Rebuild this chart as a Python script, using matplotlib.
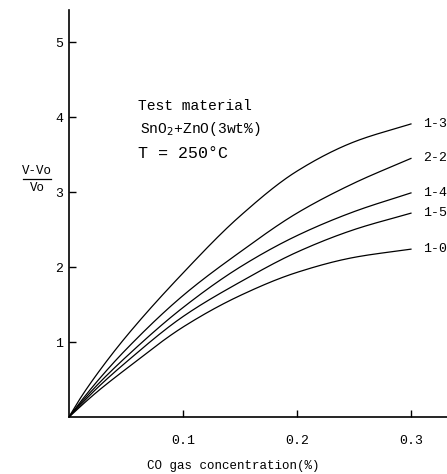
import numpy as np
import matplotlib.pyplot as plt
from matplotlib.lines import Line2D

# CO gas concentration (%) and (V-Vo)/Vo
conc = [0.0, 0.01, 0.025, 0.05, 0.1, 0.15, 0.2, 0.25, 0.3]
s13 = [0.0, 0.25, 0.58, 1.07, 1.92, 2.68, 3.28, 3.67, 3.91]
s22 = [0.0, 0.20, 0.48, 0.90, 1.62, 2.20, 2.72, 3.12, 3.45]
s14 = [0.0, 0.18, 0.43, 0.80, 1.46, 2.00, 2.42, 2.74, 2.99]
s15 = [0.0, 0.16, 0.39, 0.73, 1.34, 1.80, 2.20, 2.50, 2.72]
s10 = [0.0, 0.14, 0.34, 0.64, 1.20, 1.62, 1.93, 2.13, 2.24]
series = [s13, s22, s14, s15, s10]
names = ['1-3', '2-2', '1-4', '1-5', '1-0']

yticks = [1, 2, 3, 4, 5]
xticks = [0.1, 0.2, 0.3]
xticklabels = ['0.1', '0.2', '0.3']

mono = 'Liberation Mono'


def pchip(x, y, xn):
    # monotone cubic curve through the read points, just for drawing
    x = np.asarray(x, float)
    y = np.asarray(y, float)
    h = np.diff(x)
    d = np.diff(y) / h
    m = np.zeros_like(y)
    for i in range(1, len(x) - 1):
        if d[i - 1] * d[i] > 0:
            w1 = 2 * h[i] + h[i - 1]
            w2 = h[i] + 2 * h[i - 1]
            m[i] = (w1 + w2) / (w1 / d[i - 1] + w2 / d[i])
    m[0] = d[0]
    m[-1] = d[-1]
    idx = np.clip(np.searchsorted(x, xn) - 1, 0, len(h) - 1)
    t = (xn - x[idx]) / h[idx]
    h00 = 2 * t**3 - 3 * t**2 + 1
    h10 = t**3 - 2 * t**2 + t
    h01 = -2 * t**3 + 3 * t**2
    h11 = t**3 - t**2
    return h00 * y[idx] + h10 * h[idx] * m[idx] + h01 * y[idx + 1] + h11 * h[idx] * m[idx + 1]


fig = plt.figure(figsize=(4.47, 4.74), dpi=100)
ax = fig.add_axes([0.154, 0.120, 0.846, 0.859])

xs = np.linspace(conc[0], conc[-1], 300)
for ys, nm in zip(series, names):
    ax.plot(xs, pchip(conc, ys, xs), color='black', lw=0.9)
    ax.text(0.3105, ys[-1], nm, fontsize=9.5, family=mono, va='center', ha='left')

ax.set_xlim(0, 0.3316)
ax.set_ylim(0, 5.43)
ax.spines['top'].set_visible(False)
ax.spines['right'].set_visible(False)
ax.spines['left'].set_linewidth(1.2)
ax.spines['bottom'].set_linewidth(1.2)
ax.set_yticks(yticks)
ax.set_yticklabels([str(v) for v in yticks], family=mono, fontsize=9.5)
ax.set_xticks(xticks)
ax.set_xticklabels(xticklabels, family=mono, fontsize=9.5)
ax.tick_params(axis='y', direction='in', length=5, width=1.0, pad=4)
ax.tick_params(axis='x', direction='in', length=5, width=1.0, pad=13)
ax.set_xlabel('CO gas concentration(%)', family=mono, fontsize=9)
ax.xaxis.set_label_coords(0.434, -0.105)

# annotation block
ax.text(0.061, 4.15, 'Test material', family=mono, fontsize=10.5, va='center')
ax.text(0.062, 3.84, r'SnO$_2$+ZnO(3wt%)', family=mono, fontsize=10.5, va='center')
ax.text(0.061, 3.52, 'T = 250°C', family=mono, fontsize=12, va='center')

# y label as a fraction
fig.text(37 / 447, 1 - 171 / 474, 'V-Vo', family=mono, fontsize=9, ha='center', va='center')
fig.text(37 / 447, 1 - 188 / 474, 'Vo', family=mono, fontsize=9, ha='center', va='center')
fig.add_artist(Line2D([23 / 447, 51 / 447], [1 - 179 / 474, 1 - 179 / 474],
                      color='black', lw=0.9, transform=fig.transFigure))

fig.savefig('out.png', dpi=100)
